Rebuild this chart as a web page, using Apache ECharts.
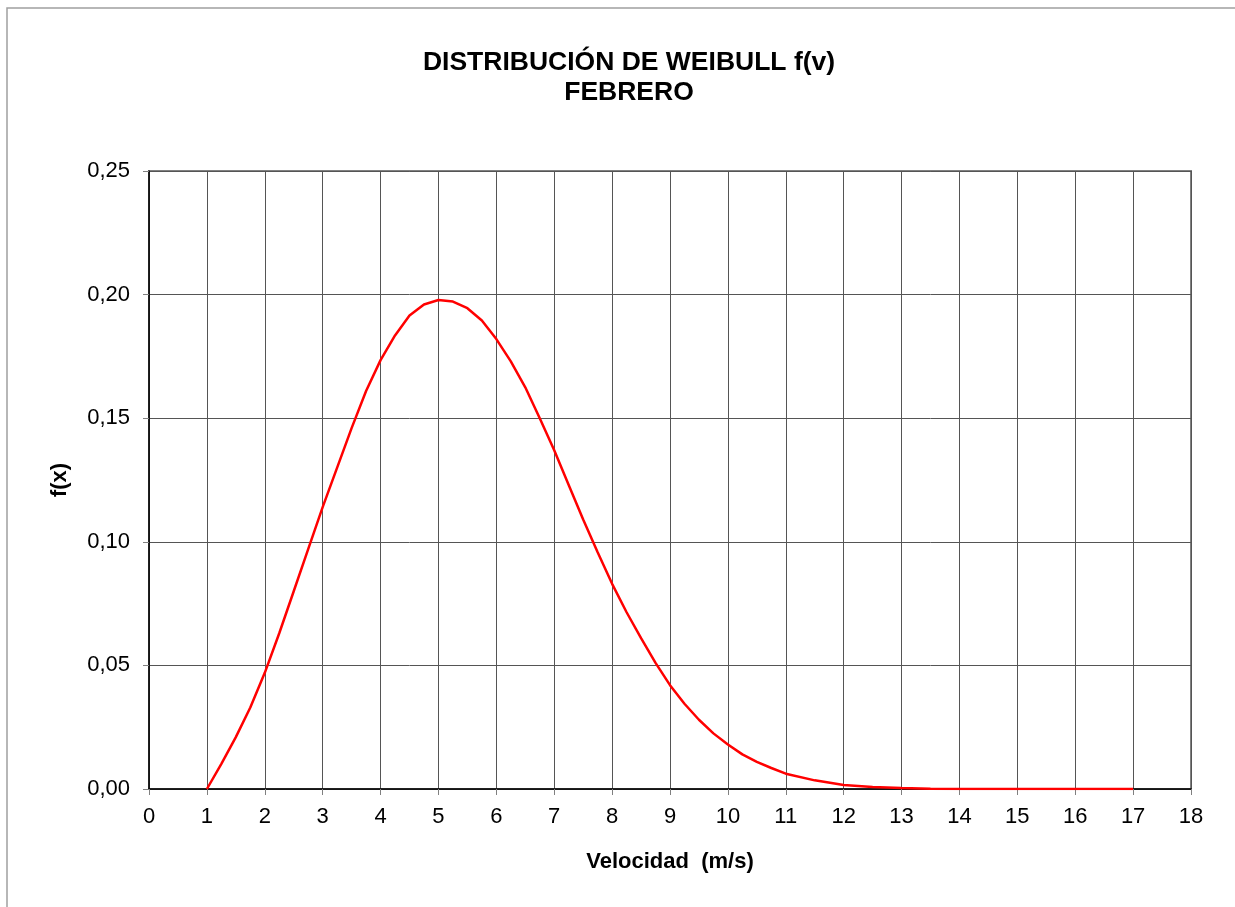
<!DOCTYPE html>
<html>
<head>
<meta charset="utf-8">
<script src="https://cdn.jsdelivr.net/npm/echarts@6/dist/echarts.min.js"></script>
<style>
  html, body { margin: 0; padding: 0; background: #fff; }
  #chart { width: 1235px; height: 907px; }
</style>
</head>
<body>
<div id="chart"></div>
<script>
// velocidad (m/s) y f(v)
const velocidad = [1, 1.25, 1.5, 1.75, 2, 2.25, 2.5, 2.75, 3, 3.25, 3.5, 3.75, 4, 4.25,
  4.5, 4.75, 5, 5.25, 5.5, 5.75, 6, 6.25, 6.5, 6.75, 7, 7.25, 7.5, 7.75, 8, 8.25, 8.5,
  8.75, 9, 9.25, 9.5, 9.75, 10, 10.25, 10.5, 10.75, 11, 11.5, 12, 12.5, 13, 13.5,
  14, 14.5, 15, 15.5, 16, 16.5, 17]
const fv = [0, 0.0102, 0.021, 0.033, 0.047, 0.063, 0.080, 0.097, 0.114, 0.130, 0.146,
  0.161, 0.1735, 0.1835, 0.1915, 0.196, 0.1978, 0.1972, 0.1945, 0.1895, 0.182, 0.173,
  0.1625, 0.150, 0.137, 0.123, 0.109, 0.0958, 0.083, 0.0715, 0.061, 0.051, 0.042,
  0.0345, 0.028, 0.0225, 0.018, 0.014, 0.011, 0.0085, 0.0062, 0.0035, 0.0016, 0.0008,
  0.0004, 0.0001, 0, 0, 0, 0, 0, 0, 0]

const chart = echarts.init(document.getElementById('chart'))

const option = {
  backgroundColor: '#fff',
  animation: false,
  title: {
    text: 'DISTRIBUCIÓN DE WEIBULL f(v)\nFEBRERO',
    left: 624,
    top: 43,
    textAlign: 'center',
    textStyle: {
      fontFamily: 'Liberation Sans',
      fontSize: 26.5,
      fontWeight: 'bold',
      color: '#000',
      lineHeight: 30
    }
  },
  grid: {
    left: 149,
    right: 44,
    top: 171,
    bottom: 118,
    show: true,
    borderColor: '#808080',
    borderWidth: 2
  },
  xAxis: {
    type: 'value',
    min: 0,
    max: 18,
    interval: 1,
    name: 'Velocidad  (m/s)',
    nameLocation: 'middle',
    nameGap: 62,
    nameTextStyle: {
      fontFamily: 'Liberation Sans',
      fontSize: 22,
      fontWeight: 'bold',
      color: '#000'
    },
    axisLine: { show: true, onZero: false, lineStyle: { color: '#000', width: 1.5 } },
    axisTick: { show: true, inside: false, length: 6, lineStyle: { color: '#808080' } },
    axisLabel: {
      fontFamily: 'Liberation Sans',
      fontSize: 22,
      color: '#000',
      margin: 17
    },
    splitLine: { show: true, lineStyle: { color: '#555', width: 1 } }
  },
  yAxis: {
    type: 'value',
    min: 0,
    max: 0.25,
    interval: 0.05,
    name: 'f(x)',
    nameLocation: 'middle',
    nameGap: 78,
    nameTextStyle: {
      fontFamily: 'Liberation Sans',
      fontSize: 22,
      fontWeight: 'bold',
      color: '#000'
    },
    axisLine: { show: true, onZero: false, lineStyle: { color: '#000', width: 1.5 } },
    axisTick: { show: true, inside: false, length: 6, lineStyle: { color: '#808080' } },
    axisLabel: {
      fontFamily: 'Liberation Sans',
      fontSize: 22,
      color: '#000',
      margin: 19,
      formatter: (v) => v.toFixed(2).replace('.', ',')
    },
    splitLine: { show: true, lineStyle: { color: '#555', width: 1 } }
  },
  graphic: [
    {
      type: 'rect',
      silent: true,
      shape: { x: 7, y: 8, width: 1400, height: 1000 },
      style: { fill: 'none', stroke: '#a0a0a0', lineWidth: 1.5 }
    }
  ],
  series: [
    {
      type: 'line',
      data: velocidad.map((v, i) => [v, fv[i]]),
      smooth: false,
      showSymbol: false,
      lineStyle: { color: '#ff0000', width: 2.5 },
      itemStyle: { color: '#ff0000' }
    }
  ]
}

chart.setOption(option)
</script>
</body>
</html>
